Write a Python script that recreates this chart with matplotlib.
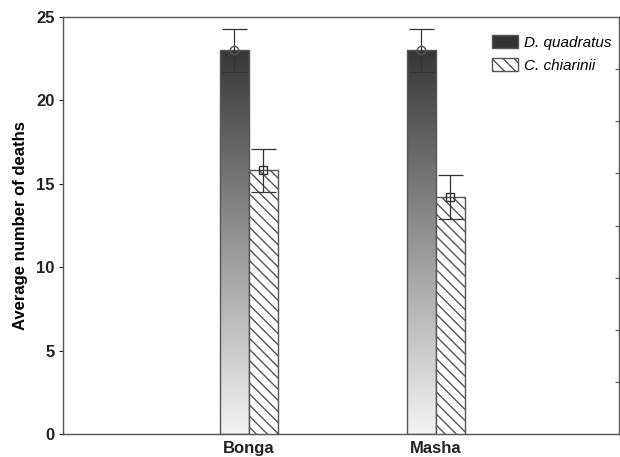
import numpy as np
import matplotlib
matplotlib.use("Agg")
import matplotlib.pyplot as plt
from matplotlib.patches import Patch

plt.rcParams['font.family'] = ['Liberation Sans', 'DejaVu Sans']

sites = ["Bonga", "Masha"]
dq_mean = [23.0, 23.0]
dq_err = [1.3, 1.3]
cc_mean = [15.8, 14.2]
cc_err = [1.3, 1.3]
series_labels = ["D. quadratus", "C. chiarinii"]

fig = plt.figure(figsize=(6.2, 4.57), dpi=100)
ax = fig.add_axes([0.1016, 0.0503, 0.8964, 0.9125])

x = np.arange(len(sites))
w = 0.155
edge = "#555555"

grad = np.linspace(0, 1, 256).reshape(-1, 1)
cmap = matplotlib.colors.LinearSegmentedColormap.from_list("g", ["#f4f4f4", "#363636"])

for i in range(len(sites)):
    xl = x[i] - w
    bar = ax.bar(xl, dq_mean[i], width=w, align='edge', facecolor='none',
                 edgecolor=edge, linewidth=1.0, zorder=3)[0]
    im = ax.imshow(grad, extent=[xl, xl + w, 0, dq_mean[i]], origin='lower',
                   cmap=cmap, aspect='auto', zorder=2)
    im.set_clip_path(bar)
    ax.bar(x[i], cc_mean[i], width=w, align='edge', facecolor='white',
           edgecolor=edge, hatch='\\\\\\', linewidth=1.0, zorder=3)

ax.errorbar(x - w / 2, dq_mean, yerr=dq_err, fmt='o', mfc='none', mec='#555555',
            ms=6, ecolor='#333333', elinewidth=0.9, capsize=9, capthick=0.9, zorder=4)
ax.errorbar(x + w / 2, cc_mean, yerr=cc_err, fmt='s', mfc='none', mec='#333333',
            ms=6, ecolor='#333333', elinewidth=0.9, capsize=9, capthick=0.9, zorder=4)

ax.set_xlim(-0.995, 1.98)
ax.set_ylim(0, 25)
ax.set_xticks(x)
ax.set_xticklabels(sites, fontsize=12, fontweight='bold')
ax.tick_params(axis='x', length=0, pad=5, colors='#222222')
ax.set_yticks([0, 5, 10, 15, 20, 25])
ax.set_yticklabels([str(v) for v in [0, 5, 10, 15, 20, 25]], fontsize=12, fontweight='bold')
ax.tick_params(axis='y', length=3, direction='out', colors='#222222', pad=3)
ax.set_ylabel("Average number of deaths", fontsize=12, fontweight='bold', labelpad=6)
for s in ax.spines.values():
    s.set_color('#555555')
    s.set_linewidth(1.0)

ax2 = ax.twinx()
ax2.set_ylim(0, 8)
ax2.set_yticks(range(1, 8))
ax2.tick_params(axis='y', direction='in', length=3, labelright=False, colors='#555555')
for s in ax2.spines.values():
    s.set_visible(False)

handles = [Patch(facecolor='#333333', edgecolor='#555555'),
           Patch(facecolor='white', edgecolor='#555555', hatch='\\\\\\')]
ax.legend(handles, series_labels, loc='upper right', frameon=False,
          prop={'style': 'italic', 'size': 11}, handlelength=1.7, handleheight=0.9,
          handletextpad=0.4, labelspacing=0.55, bbox_to_anchor=(1.012, 0.99))

fig.savefig("out.png", dpi=100)
